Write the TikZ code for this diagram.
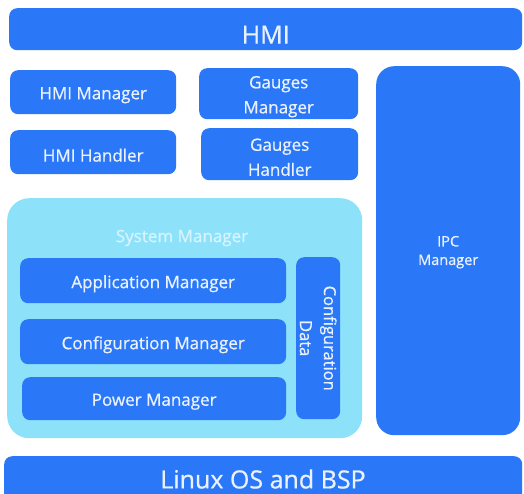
\documentclass[tikz,border=0pt]{standalone}
\usepackage{fontspec}
\setmainfont{Open Sans}[UprightFeatures={FakeBold=0.7}]
\definecolor{blockblue}{HTML}{2A78F8}
\definecolor{groupcyan}{HTML}{8DE2FA}
\definecolor{labelwhite}{HTML}{EAF2FF}
\definecolor{grouplabel}{HTML}{D6F4FD}
\tikzset{
  block/.style={fill=blockblue, draw=none, rounded corners=8pt,
    inner sep=0pt, anchor=north west},
  group/.style={fill=groupcyan, draw=none, rounded corners=22pt, inner sep=0pt, anchor=north west},
  lbl/.style={text=labelwhite, inner sep=0pt, align=center, yshift=-3pt,
    font=\fontsize{17}{25}\selectfont},
  biglbl/.style={lbl, font=\fontsize{25}{30}\selectfont}
}
\begin{document}
\begin{tikzpicture}[x=1pt,y=-1pt]
  \useasboundingbox (0,0) rectangle (524,493);
  \fill[white] (0,0) rectangle (524,493);

  % top layer
  \node[block, minimum width=513pt, minimum height=42pt] (hmi) at (9,8) {};
  \node[biglbl, yshift=-2.5pt] (hmi-t) at (hmi.center) {HMI};

  % HMI components
  \node[block, minimum width=166pt, minimum height=44pt] (hmimgr) at (10,70) {};
  \node[lbl] (hmimgr-t) at (hmimgr.center) {HMI Manager};
  \node[block, minimum width=159pt, minimum height=51pt] (gaugemgr) at (199,68) {};
  \node[lbl] (gaugemgr-t) at (gaugemgr.center) {Gauges\\Manager};
  \node[block, minimum width=166pt, minimum height=44pt] (hmihdl) at (10,130) {};
  \node[lbl] (hmihdl-t) at (hmihdl.center) {HMI Handler};
  \node[block, minimum width=157pt, minimum height=52pt] (gaugehdl) at (201,128) {};
  \node[lbl] (gaugehdl-t) at (gaugehdl.center) {Gauges\\Handler};

  % IPC column
  \node[block, rounded corners=18pt, minimum width=144pt, minimum height=369pt] (ipc) at (376,66) {};
  \node[lbl, yshift=1.5pt, font=\fontsize{14.5}{18.5}\selectfont] (ipc-t) at (ipc.center) {IPC\\Manager};

  % system manager group
  \node[group, minimum width=355pt, minimum height=240pt] (sysgrp) at (7,198) {};
  \node[lbl, yshift=3pt, text=grouplabel, font=\fontsize{17}{20}\selectfont] (syslabel) at (182,238) {System Manager};

  \node[block, minimum width=266pt, minimum height=45pt] (appmgr) at (20,258) {};
  \node[lbl] (appmgr-t) at (appmgr.center) {Application Manager};
  \node[block, minimum width=266pt, minimum height=45pt] (cfgmgr) at (20,319) {};
  \node[lbl] (cfgmgr-t) at (cfgmgr.center) {Configuration Manager};
  \node[block, minimum width=264pt, minimum height=43pt] (pwrmgr) at (22,377) {};
  \node[lbl] (pwrmgr-t) at (pwrmgr.center) {Power Manager};

  \node[block, minimum width=44pt, minimum height=162pt] (cfgdata) at (296,257) {};
  \node[lbl, yshift=3pt, rotate=-90, font=\fontsize{16.5}{24}\selectfont]
    (cfgdata-t) at (cfgdata.center) {Configuration\\Data};

  % bottom layer
  \node[block, minimum width=518pt, minimum height=50pt] (linux) at (4,456) {};
  \node[biglbl, yshift=3pt] (linux-t) at (263,479) {Linux OS and BSP};
\end{tikzpicture}
\end{document}
